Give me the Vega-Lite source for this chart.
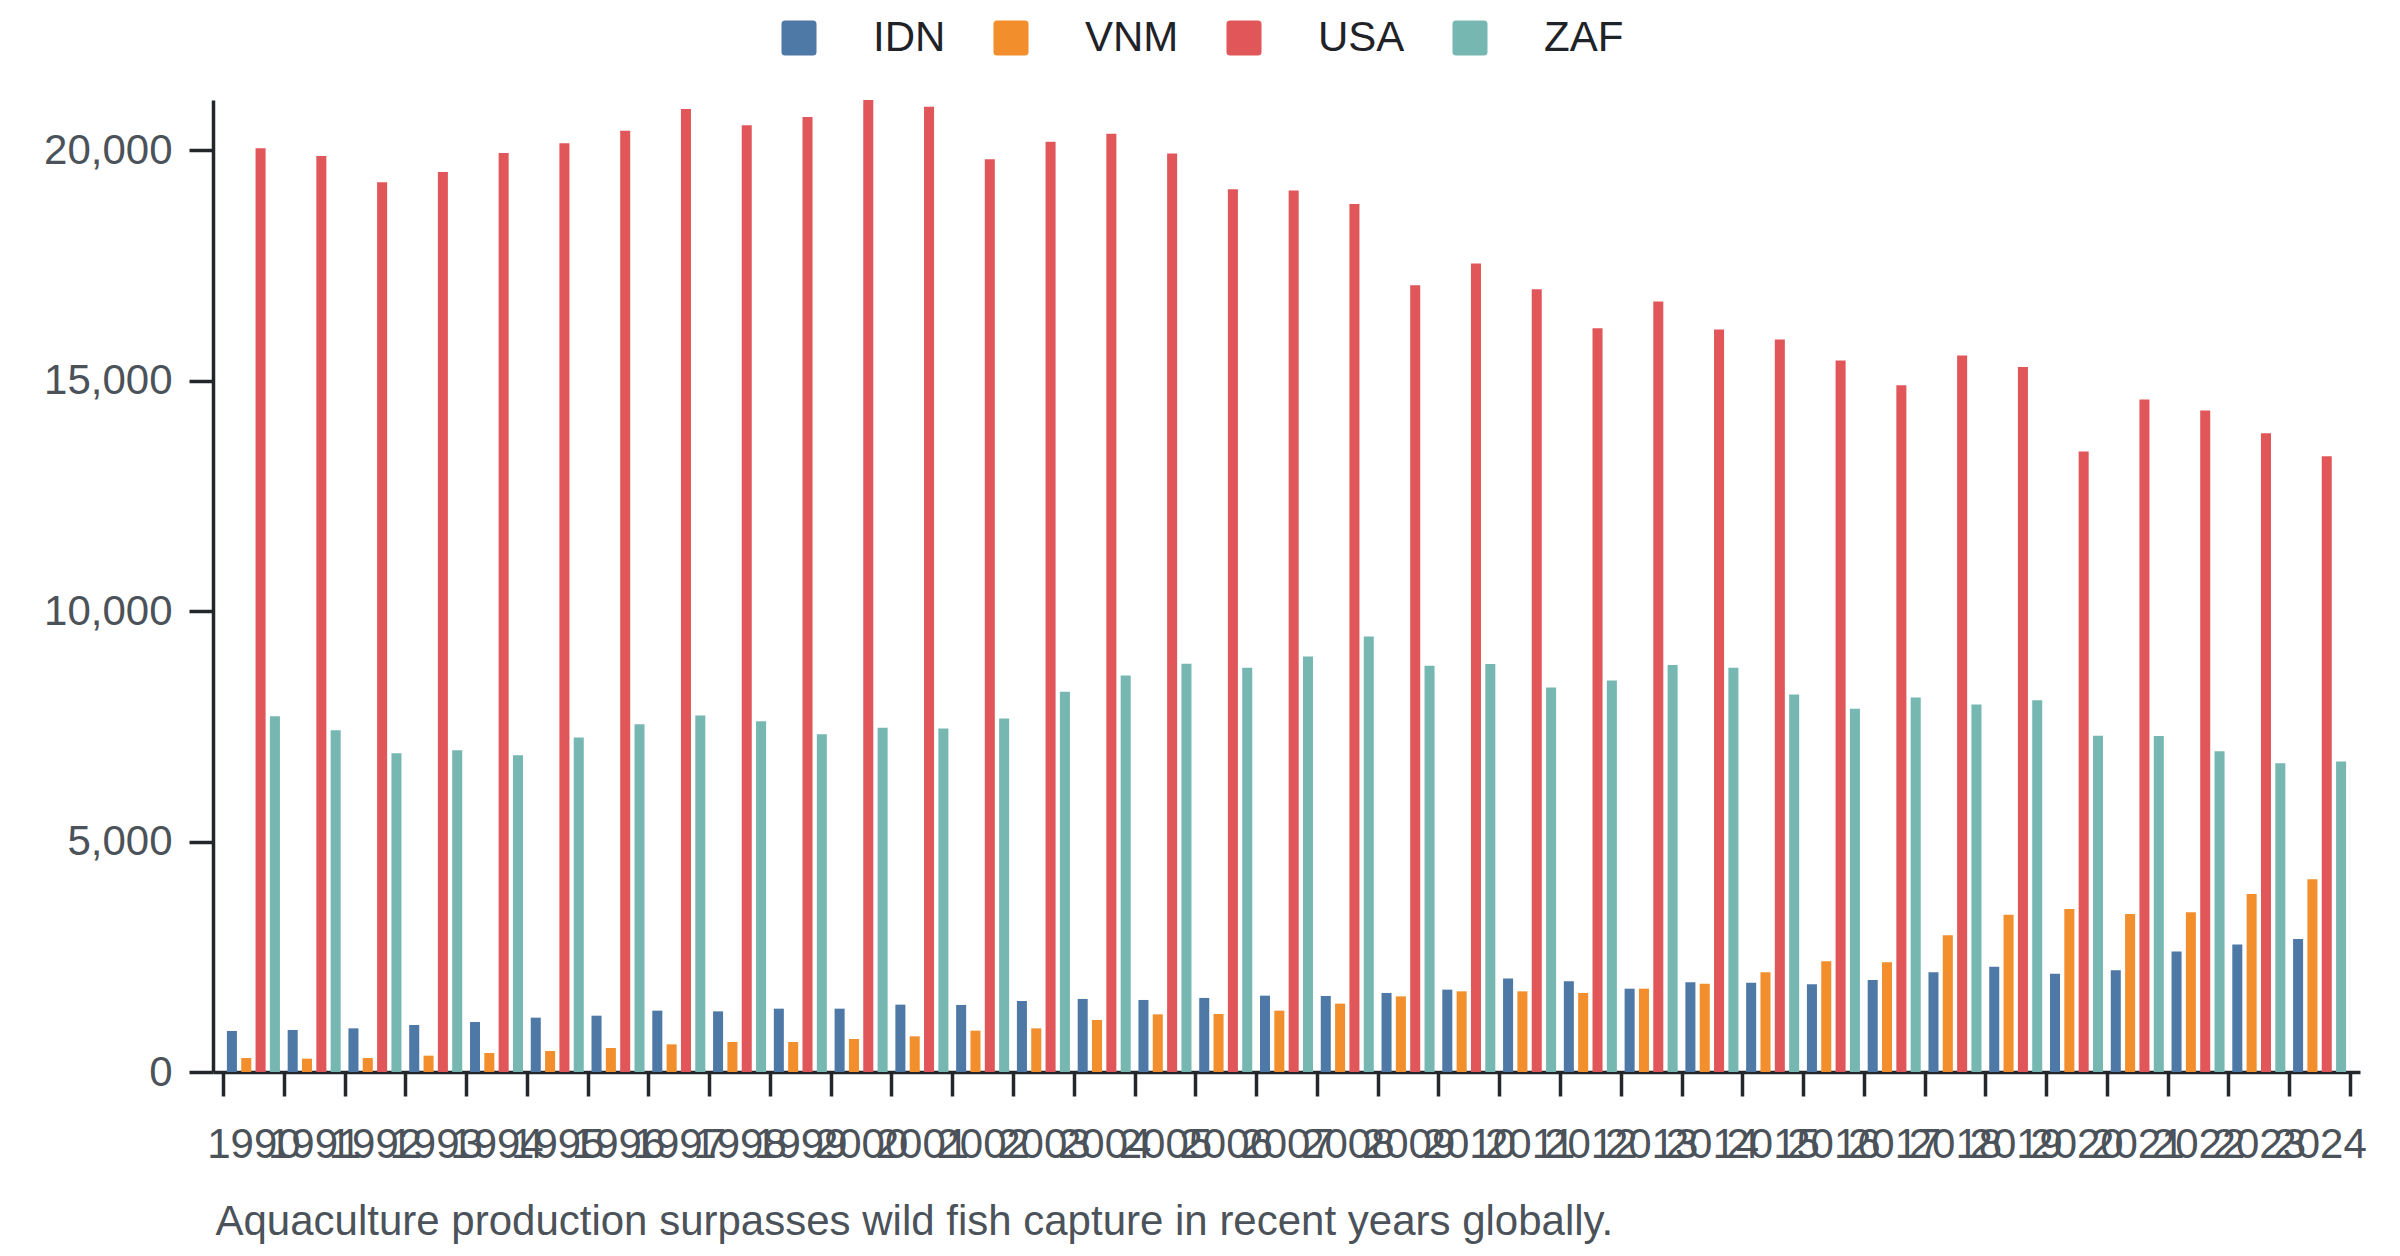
{
  "$schema": "https://vega.github.io/schema/vega-lite/v6.json",
  "width": 2147,
  "height": 972,
  "autosize": "none",
  "padding": {"left": 213, "top": 100, "right": 40, "bottom": 184},
  "background": "white",
  "config": {
    "font": "Liberation Sans",
    "view": {"stroke": null}
  },
  "data": {
    "values": [
      {"year": 1990, "country": "IDN", "value": 890}, {"year": 1990, "country": "VNM", "value": 304}, {"year": 1990, "country": "USA", "value": 20039}, {"year": 1990, "country": "ZAF", "value": 7720},
      {"year": 1991, "country": "IDN", "value": 912}, {"year": 1991, "country": "VNM", "value": 289}, {"year": 1991, "country": "USA", "value": 19872}, {"year": 1991, "country": "ZAF", "value": 7416},
      {"year": 1992, "country": "IDN", "value": 947}, {"year": 1992, "country": "VNM", "value": 304}, {"year": 1992, "country": "USA", "value": 19301}, {"year": 1992, "country": "ZAF", "value": 6917},
      {"year": 1993, "country": "IDN", "value": 1020}, {"year": 1993, "country": "VNM", "value": 354}, {"year": 1993, "country": "USA", "value": 19524}, {"year": 1993, "country": "ZAF", "value": 6982},
      {"year": 1994, "country": "IDN", "value": 1085}, {"year": 1994, "country": "VNM", "value": 412}, {"year": 1994, "country": "USA", "value": 19937}, {"year": 1994, "country": "ZAF", "value": 6874},
      {"year": 1995, "country": "IDN", "value": 1179}, {"year": 1995, "country": "VNM", "value": 456}, {"year": 1995, "country": "USA", "value": 20148}, {"year": 1995, "country": "ZAF", "value": 7258},
      {"year": 1996, "country": "IDN", "value": 1222}, {"year": 1996, "country": "VNM", "value": 521}, {"year": 1996, "country": "USA", "value": 20421}, {"year": 1996, "country": "ZAF", "value": 7547},
      {"year": 1997, "country": "IDN", "value": 1331}, {"year": 1997, "country": "VNM", "value": 600}, {"year": 1997, "country": "USA", "value": 20892}, {"year": 1997, "country": "ZAF", "value": 7735},
      {"year": 1998, "country": "IDN", "value": 1316}, {"year": 1998, "country": "VNM", "value": 651}, {"year": 1998, "country": "USA", "value": 20538}, {"year": 1998, "country": "ZAF", "value": 7612},
      {"year": 1999, "country": "IDN", "value": 1374}, {"year": 1999, "country": "VNM", "value": 651}, {"year": 1999, "country": "USA", "value": 20719}, {"year": 1999, "country": "ZAF", "value": 7330},
      {"year": 2000, "country": "IDN", "value": 1374}, {"year": 2000, "country": "VNM", "value": 716}, {"year": 2000, "country": "USA", "value": 21088}, {"year": 2000, "country": "ZAF", "value": 7468},
      {"year": 2001, "country": "IDN", "value": 1461}, {"year": 2001, "country": "VNM", "value": 774}, {"year": 2001, "country": "USA", "value": 20943}, {"year": 2001, "country": "ZAF", "value": 7453},
      {"year": 2002, "country": "IDN", "value": 1455}, {"year": 2002, "country": "VNM", "value": 897}, {"year": 2002, "country": "USA", "value": 19800}, {"year": 2002, "country": "ZAF", "value": 7670},
      {"year": 2003, "country": "IDN", "value": 1541}, {"year": 2003, "country": "VNM", "value": 947}, {"year": 2003, "country": "USA", "value": 20182}, {"year": 2003, "country": "ZAF", "value": 8250},
      {"year": 2004, "country": "IDN", "value": 1585}, {"year": 2004, "country": "VNM", "value": 1129}, {"year": 2004, "country": "USA", "value": 20356}, {"year": 2004, "country": "ZAF", "value": 8604},
      {"year": 2005, "country": "IDN", "value": 1563}, {"year": 2005, "country": "VNM", "value": 1251}, {"year": 2005, "country": "USA", "value": 19930}, {"year": 2005, "country": "ZAF", "value": 8858},
      {"year": 2006, "country": "IDN", "value": 1607}, {"year": 2006, "country": "VNM", "value": 1259}, {"year": 2006, "country": "USA", "value": 19149}, {"year": 2006, "country": "ZAF", "value": 8771},
      {"year": 2007, "country": "IDN", "value": 1656}, {"year": 2007, "country": "VNM", "value": 1331}, {"year": 2007, "country": "USA", "value": 19127}, {"year": 2007, "country": "ZAF", "value": 9016},
      {"year": 2008, "country": "IDN", "value": 1650}, {"year": 2008, "country": "VNM", "value": 1483}, {"year": 2008, "country": "USA", "value": 18830}, {"year": 2008, "country": "ZAF", "value": 9451},
      {"year": 2009, "country": "IDN", "value": 1715}, {"year": 2009, "country": "VNM", "value": 1641}, {"year": 2009, "country": "USA", "value": 17071}, {"year": 2009, "country": "ZAF", "value": 8814},
      {"year": 2010, "country": "IDN", "value": 1787}, {"year": 2010, "country": "VNM", "value": 1750}, {"year": 2010, "country": "USA", "value": 17542}, {"year": 2010, "country": "ZAF", "value": 8850},
      {"year": 2011, "country": "IDN", "value": 2026}, {"year": 2011, "country": "VNM", "value": 1750}, {"year": 2011, "country": "USA", "value": 16984}, {"year": 2011, "country": "ZAF", "value": 8343},
      {"year": 2012, "country": "IDN", "value": 1967}, {"year": 2012, "country": "VNM", "value": 1715}, {"year": 2012, "country": "USA", "value": 16138}, {"year": 2012, "country": "ZAF", "value": 8495},
      {"year": 2013, "country": "IDN", "value": 1808}, {"year": 2013, "country": "VNM", "value": 1808}, {"year": 2013, "country": "USA", "value": 16717}, {"year": 2013, "country": "ZAF", "value": 8828},
      {"year": 2014, "country": "IDN", "value": 1945}, {"year": 2014, "country": "VNM", "value": 1917}, {"year": 2014, "country": "USA", "value": 16109}, {"year": 2014, "country": "ZAF", "value": 8771},
      {"year": 2015, "country": "IDN", "value": 1939}, {"year": 2015, "country": "VNM", "value": 2162}, {"year": 2015, "country": "USA", "value": 15892}, {"year": 2015, "country": "ZAF", "value": 8191},
      {"year": 2016, "country": "IDN", "value": 1902}, {"year": 2016, "country": "VNM", "value": 2401}, {"year": 2016, "country": "USA", "value": 15436}, {"year": 2016, "country": "ZAF", "value": 7881},
      {"year": 2017, "country": "IDN", "value": 1997}, {"year": 2017, "country": "VNM", "value": 2379}, {"year": 2017, "country": "USA", "value": 14900}, {"year": 2017, "country": "ZAF", "value": 8126},
      {"year": 2018, "country": "IDN", "value": 2162}, {"year": 2018, "country": "VNM", "value": 2966}, {"year": 2018, "country": "USA", "value": 15545}, {"year": 2018, "country": "ZAF", "value": 7974},
      {"year": 2019, "country": "IDN", "value": 2286}, {"year": 2019, "country": "VNM", "value": 3409}, {"year": 2019, "country": "USA", "value": 15298}, {"year": 2019, "country": "ZAF", "value": 8068},
      {"year": 2020, "country": "IDN", "value": 2134}, {"year": 2020, "country": "VNM", "value": 3539}, {"year": 2020, "country": "USA", "value": 13461}, {"year": 2020, "country": "ZAF", "value": 7295},
      {"year": 2021, "country": "IDN", "value": 2206}, {"year": 2021, "country": "VNM", "value": 3430}, {"year": 2021, "country": "USA", "value": 14590}, {"year": 2021, "country": "ZAF", "value": 7287},
      {"year": 2022, "country": "IDN", "value": 2612}, {"year": 2022, "country": "VNM", "value": 3465}, {"year": 2022, "country": "USA", "value": 14351}, {"year": 2022, "country": "ZAF", "value": 6961},
      {"year": 2023, "country": "IDN", "value": 2764}, {"year": 2023, "country": "VNM", "value": 3864}, {"year": 2023, "country": "USA", "value": 13858}, {"year": 2023, "country": "ZAF", "value": 6700},
      {"year": 2024, "country": "IDN", "value": 2888}, {"year": 2024, "country": "VNM", "value": 4181}, {"year": 2024, "country": "USA", "value": 13358}, {"year": 2024, "country": "ZAF", "value": 6737}
    ]
  },
  "mark": {"type": "bar"},
  "encoding": {
    "x": {
      "field": "year",
      "type": "ordinal",
      "scale": {"paddingInner": 0, "paddingOuter": 0.165},
      "axis": {
        "title": "Aquaculture production surpasses wild fish capture in recent years globally.",
        "titleFontSize": 42,
        "titleFontWeight": "normal",
        "titleColor": "#4b5259",
        "titleAlign": "left",
        "titleAnchor": null,
        "titleBaseline": "alphabetic",
        "titleX": 2,
        "titleY": 162,
        "labelAngle": 0,
        "labelOverlap": false,
        "labelFontSize": 42,
        "labelColor": "#4b5259",
        "labelPadding": 28,
        "tickBand": "extent",
        "tickSize": 24,
        "tickWidth": 3.5,
        "tickColor": "#23272b",
        "domainWidth": 3.5,
        "domainColor": "#23272b",
        "grid": false
      }
    },
    "xOffset": {
      "field": "country",
      "type": "nominal",
      "sort": ["IDN", "VNM", "USA", "ZAF"],
      "scale": {"paddingInner": 0.3, "paddingOuter": 0.27}
    },
    "y": {
      "field": "value",
      "type": "quantitative",
      "scale": {"nice": false, "zero": true},
      "axis": {
        "title": null,
        "values": [0, 5000, 10000, 15000, 20000],
        "format": ",d",
        "labelFontSize": 42,
        "labelColor": "#4b5259",
        "labelPadding": 17,
        "tickSize": 24,
        "tickWidth": 3.5,
        "tickColor": "#23272b",
        "domainWidth": 3.5,
        "domainColor": "#23272b",
        "grid": false
      }
    },
    "color": {
      "field": "country",
      "type": "nominal",
      "scale": {
        "domain": ["IDN", "VNM", "USA", "ZAF"],
        "range": ["#4e79a7", "#f28e2c", "#e15759", "#76b7b2"]
      },
      "legend": {
        "title": null,
        "orient": "none",
        "direction": "horizontal",
        "legendX": 565,
        "legendY": -83,
        "padding": 0,
        "symbolType": "M -0.8,-1 H 0.8 Q 1,-1 1,-0.8 V 0.8 Q 1,1 0.8,1 H -0.8 Q -1,1 -1,0.8 V -0.8 Q -1,-1 -0.8,-1 Z",
        "symbolSize": 1225,
        "symbolStrokeWidth": 0,
        "symbolOpacity": 1,
        "labelFontSize": 42,
        "labelColor": "#1f2328",
        "labelOffset": 53,
        "columnPadding": 44,
        "labelLimit": 400
      }
    }
  }
}
